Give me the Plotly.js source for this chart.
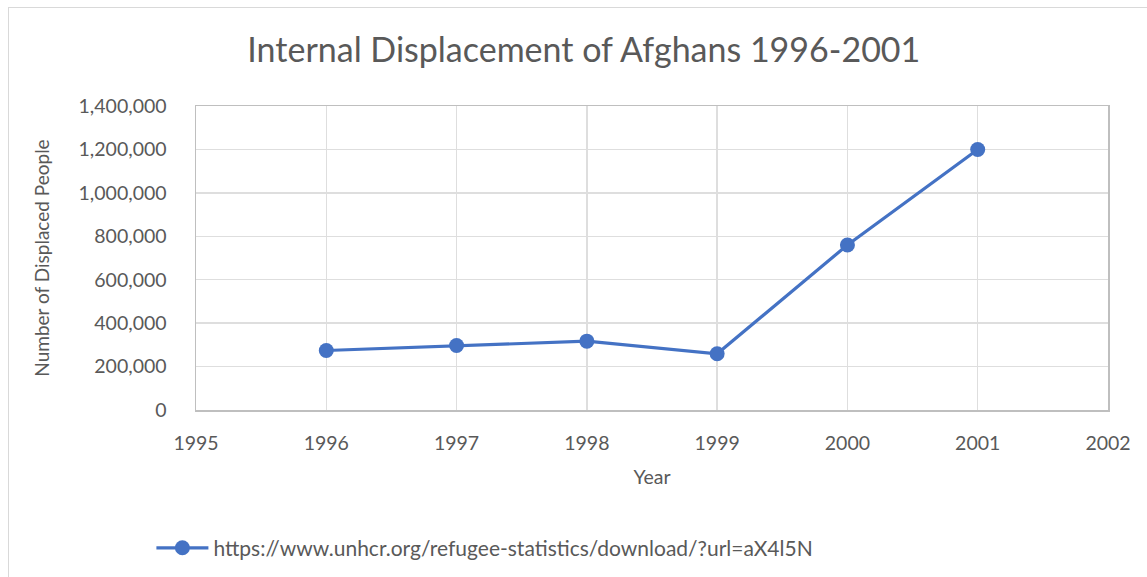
<!DOCTYPE html>
<html>
<head>
<meta charset="utf-8">
<script src="https://cdn.plot.ly/plotly-3.0.1.min.js"></script>
<style>
html,body{margin:0;padding:0;background:#fff;}
#wrap{position:relative;width:1147px;height:577px;overflow:hidden;}
#chart{width:1147px;height:577px;}
#frame{position:absolute;left:8px;top:7px;width:1150px;height:580px;border:1px solid #d9d9d9;pointer-events:none;}
</style>
</head>
<body>
<div id="wrap"><div id="chart"></div><div id="frame"></div></div>
<script>
const years = [1996, 1997, 1998, 1999, 2000, 2001];
const displaced = [274000, 297000, 317000, 259000, 760000, 1200000];
const seriesName = "https://www.unhcr.org/refugee-statistics/download/?url=aX4l5N";
const yTicks = [0, 200000, 400000, 600000, 800000, 1000000, 1200000, 1400000];
const xTicks = [1995, 1996, 1997, 1998, 1999, 2000, 2001, 2002];

const font = "Lato, 'Open Sans', sans-serif";
const grey = "#595959";

Plotly.newPlot("chart", [{
  x: years, y: displaced, name: seriesName,
  type: "scatter", mode: "lines+markers",
  line: {color: "#4472C4", width: 3.2},
  marker: {color: "#4472C4", size: 15},
  showlegend: true
}], {
  width: 1147, height: 577,
  margin: {l: 196, r: 39, t: 106, b: 167, autoexpand: false},
  paper_bgcolor: "#fff", plot_bgcolor: "#fff",
  font: {family: font, color: grey, size: 20},
  title: {text: "Internal Displacement of Afghans 1996-2001", font: {family: font, size: 34, color: grey},
          x: 0.509, xanchor: "center", y: 0.913, yanchor: "middle"},
  xaxis: {range: [1995, 2002], tickvals: xTicks, ticktext: xTicks.map(String),
          showgrid: true, gridcolor: "#dedede", gridwidth: 1.5, zeroline: false,
          showline: true, linecolor: "#bfbfbf", linewidth: 1.5, mirror: true, automargin: false,
          ticks: "", ticklabelstandoff: 15, tickfont: {size: 19.5, color: grey},
          title: {text: "Year", font: {size: 19.5, color: grey}, standoff: 17}},
  yaxis: {range: [0, 1400000], tickvals: yTicks, ticktext: yTicks.map(v => v.toLocaleString("en-US")),
          showgrid: true, gridcolor: "#dedede", gridwidth: 1.5, zeroline: false,
          showline: true, linecolor: "#bfbfbf", linewidth: 1.5, mirror: true, automargin: false,
          ticks: "", ticklabelstandoff: 24, tickfont: {size: 19.5, color: grey},
          title: {text: "Number of Displaced People", font: {size: 19, color: grey}, standoff: 24}},
  legend: {orientation: "h", xref: "container", x: 0.132, xanchor: "left",
           yref: "container", y: 0.05, yanchor: "middle",
           itemwidth: 52, font: {size: 21, color: grey}, bgcolor: "rgba(0,0,0,0)"},
  hovermode: false
}, {displayModeBar: false, staticPlot: true});
</script>
</body>
</html>
